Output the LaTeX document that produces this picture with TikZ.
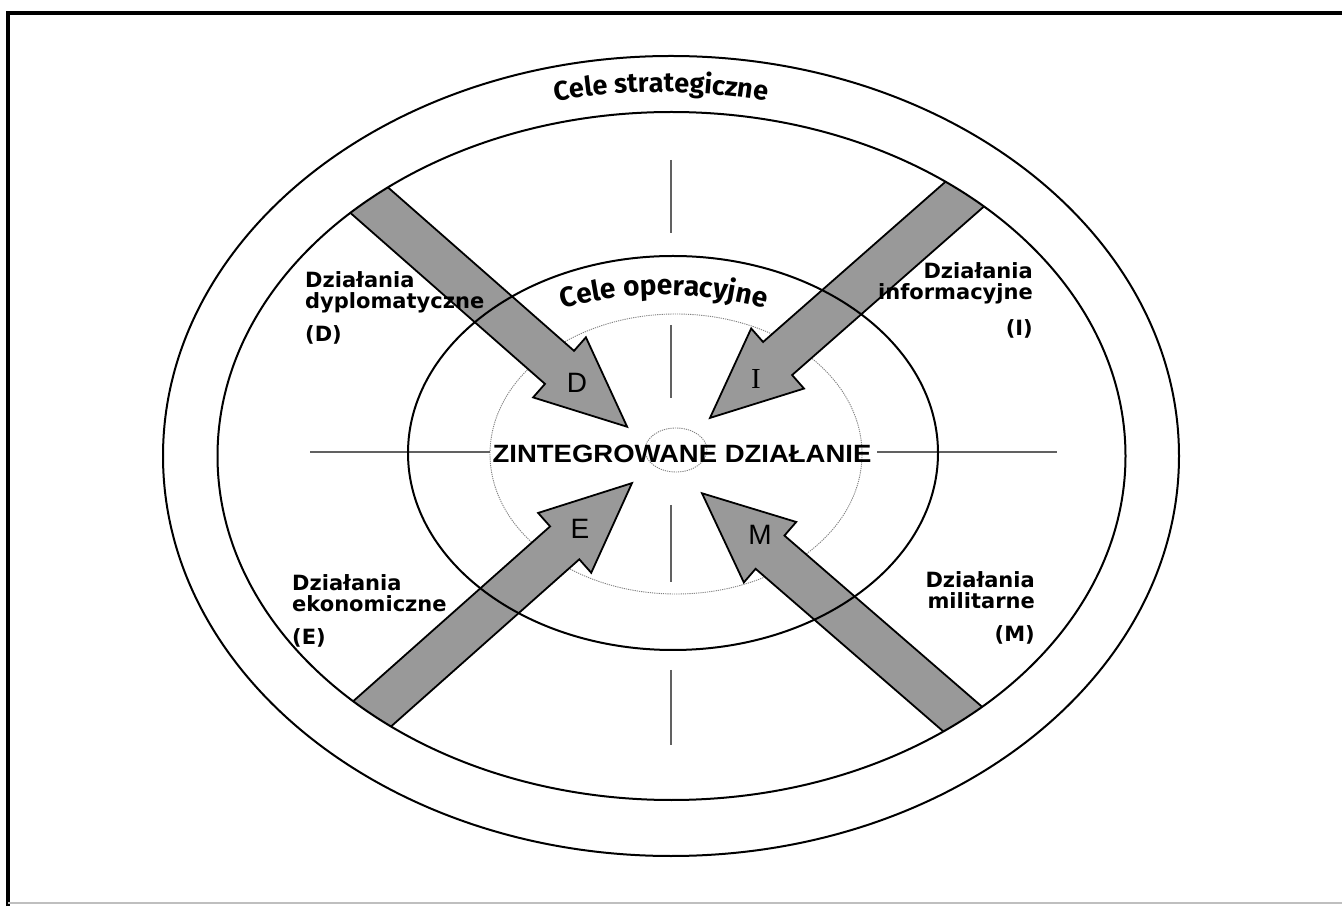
\documentclass[tikz,border=0pt]{standalone}
\usepackage{fontspec}
\setmainfont{Liberation Sans}
\newfontfamily\labfont{DejaVu Sans}
\newfontfamily\celefont{Fira Sans}
\newfontfamily\serfont{Liberation Serif}
\usetikzlibrary{decorations.text}
\newcommand\ArrowShape[3]{%
  \begin{scope}[shift={#1}, rotate=#2]
    \filldraw[bigarr] (-40,-22) -- ({#3-90},-22) -- ({#3-90},-40) -- (#3,0)
      -- ({#3-90},40) -- ({#3-90},22) -- (-40,22) -- cycle;
  \end{scope}}
\tikzset{
  ell/.style={draw=black, line width=2pt},
  dotell/.style={draw=black!50, line width=0.9pt, dash pattern=on 1.2pt off 1pt},
  cross/.style={draw=black!62, line width=2.8pt},
  bigarr/.style={fill=black!40, draw=black, line width=1.8pt, line join=miter},
  lab/.style={font=\labfont\bfseries\fontsize{21}{21.5}\selectfont, inner sep=0pt},
  letter/.style={font=\fontsize{28}{28}\selectfont, inner sep=0pt},
}
\begin{document}
\begin{tikzpicture}[x=1pt,y=1pt]
\useasboundingbox (0,0) rectangle (1342,906);
% frame
\draw[line width=3.5pt] (8,0) -- (8,893) -- (1342,893);
\draw[black!25, line width=1.5pt] (8,3) -- (1342,3);
% dotted inner ellipses
\draw[dotell] (676,452) ellipse [x radius=186pt, y radius=140pt];
\draw[dotell] (676,456) ellipse [x radius=31pt, y radius=22pt];
% crosshair
\draw[cross] (310,454) -- (490,454);
\draw[cross] (877,454) -- (1057,454);
\draw[cross] (671,746) -- (671,673);
\draw[cross] (671,581) -- (671,508);
\draw[cross] (671,401) -- (671,324);
\draw[cross] (671,236) -- (671,161);
% arrows clipped by second ellipse
\begin{scope}
  \clip (671.5,450) ellipse [x radius=454pt, y radius=344pt];
  \ArrowShape{(369,706)}{-41.3}{343.6}
  \ArrowShape{(966,713)}{-138.7}{340.8}
  \ArrowShape{(377,196.5)}{41.6}{341}
  \ArrowShape{(962,187.5)}{139.1}{344}
\end{scope}
% solid ellipses
\draw[ell] (671,450) ellipse [x radius=508pt, y radius=400pt];
\draw[ell] (671.5,450) ellipse [x radius=454pt, y radius=344pt];
\draw[ell] (673,453) ellipse [x radius=265pt, y radius=197pt];
% arrow letters
\node[letter] (lD) at (577,523) {D};
\node[letter, font=\serfont\fontsize{29}{29}\selectfont] (lI) at (756,527) {I};
\node[letter] (lE) at (580,377) {E};
\node[letter] (lM) at (760,371) {M};
% centre text
\node[inner sep=0pt, font=\bfseries\fontsize{25}{25}\selectfont] (ctr) at (682,452.5)
  {\scalebox{1.1}[1]{ZINTEGROWANE DZIAŁANIE}};
% curved titles
\path[decorate, decoration={text along path, text align=center,
  text={|\celefont\bfseries\fontsize{27}{27}\selectfont|Cele strategiczne}}]
  (661+473*cos 120, 450+364*sin 120) arc [start angle=120, end angle=60, x radius=473pt, y radius=364pt];
\path[decorate, decoration={text along path, text align=center,
  text={|\celefont\bfseries\fontsize{28}{28}\selectfont|Cele operacyjne}}]
  (664+250*cos 125, 453+158*sin 125) arc [start angle=125, end angle=55, x radius=250pt, y radius=158pt];
% side labels
\node[lab, anchor=north west, align=left] (labD) at (305,635)
  {Działania\\dyplomatyczne\\[11pt](D)};
\node[lab, anchor=north east, align=right] (labI) at (1033,644)
  {Działania\\informacyjne\\[14pt](I)};
\node[lab, anchor=north west, align=left] (labE) at (292,332)
  {Działania\\ekonomiczne\\[11pt](E)};
\node[lab, anchor=north east, align=right] (labM) at (1035,335)
  {Działania\\militarne\\[11pt](M)};
\end{tikzpicture}
\end{document}
